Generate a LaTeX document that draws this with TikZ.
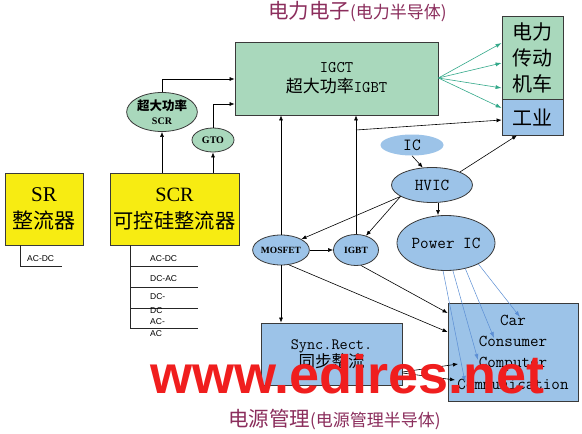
\documentclass[tikz,border=0pt]{standalone}
\usepackage{fontspec}
\setmainfont{Liberation Serif}
\newfontfamily\cjk{Noto Sans CJK SC}
\newfontfamily\wm{Liberation Sans}
\usetikzlibrary{arrows.meta,shapes.geometric}
\definecolor{gfill}{HTML}{A9D8BC}
\definecolor{bfill}{HTML}{9CC3E8}
\definecolor{yfill}{HTML}{F7EC12}
\definecolor{ttl}{HTML}{8B2D5C}
\definecolor{garr}{HTML}{33A98A}
\definecolor{barr}{HTML}{5B8ED4}
\definecolor{edge}{HTML}{3A3A3A}
\definecolor{wmred}{HTML}{F01E1E}
\tikzset{
  box/.style={draw=edge, line width=0.8pt, inner sep=0pt, align=center},
  ell/.style={ellipse, draw=edge, line width=0.8pt, inner sep=0pt, align=center},
  arr/.style={-{Latex[length=5pt,width=4pt]}, line width=0.6pt, black},
  garrow/.style={-{Latex[length=6pt,width=4pt]}, line width=0.6pt, garr},
  barrow/.style={-{Latex[length=6pt,width=4pt]}, line width=0.5pt, barr},
  plain/.style={line width=0.6pt, black!85},
  small/.style={font=\wm\fontsize{8.5}{10}\selectfont, inner sep=0pt, anchor=west},
  ttlnode/.style={text=ttl, inner sep=0pt, anchor=west},
}
\begin{document}
\begin{tikzpicture}[x=1pt,y=-1pt]
\useasboundingbox (0,0) rectangle (582,434);
\fill[white] (0,0) rectangle (582,434);

% titles
\node[ttlnode] (t1) at (268,12) {{\cjk\fontsize{20.5}{22}\selectfont 电力电子}{\cjk\fontsize{17}{20}\selectfont (电力半导体)}};
\node[ttlnode] (t2) at (228,420) {{\cjk\fontsize{20.5}{22}\selectfont 电源管理}{\cjk\fontsize{17}{20}\selectfont (电源管理半导体)}};

% boxes
\node[box, fill=gfill, minimum width=203pt, minimum height=73pt,
      font=\ttfamily\fontsize{16.2}{20}\selectfont] (igct) at (336.5,78.5)
  {IGCT\\{\cjk\fontsize{17}{20}\selectfont 超大功率}IGBT};
\node[box, fill=gfill, minimum width=61pt, minimum height=83pt,
      font=\cjk\fontsize{20}{26}\selectfont] (loco) at (532.5,57.5)
  {电力\\传动\\机车};
\node[box, fill=bfill, minimum width=61pt, minimum height=36pt,
      font=\cjk\fontsize{20}{24}\selectfont] (ind) at (532.5,117)
  {工业};
\node[box, fill=yfill, minimum width=78pt, minimum height=72pt,
      font=\fontsize{21}{27}\selectfont] (sr) at (44,209)
  {SR\\{\cjk 整流器}};
\node[box, fill=yfill, minimum width=129pt, minimum height=72pt,
      font=\fontsize{20.3}{27}\selectfont] (scr) at (174.5,209)
  {SCR\\{\cjk 可控硅整流器}};
\node[box, fill=bfill, minimum width=141pt, minimum height=62pt,
      font=\ttfamily\fontsize{15.8}{18}\selectfont] (sync) at (331.5,354)
  {Sync.Rect.\\{\cjk\fontsize{16.5}{18}\selectfont 同步整流}};
\node[box, fill=bfill, minimum width=130pt, minimum height=98pt,
      font=\ttfamily\fontsize{16.6}{21.3}\selectfont] (app) at (513,352)
  {Car\\Consumer\\Computer\\Communication};

% ellipses
\node[ell, fill=gfill, minimum width=63pt, minimum height=39pt,
      font=\bfseries\fontsize{10}{14}\selectfont] (hscr) at (162,112)
  {{\cjk\fontsize{12.5}{15}\selectfont 超大功率}\\SCR};
\node[ell, fill=gfill, minimum width=42pt, minimum height=24pt,
      font=\bfseries\fontsize{10}{12}\selectfont] (gto) at (213,140)
  {GTO};
\node[ellipse, fill=bfill, inner sep=0pt, minimum width=63pt, minimum height=21pt,
      font=\ttfamily\fontsize{17}{18}\selectfont] (ic) at (412,145)
  {IC};
\node[ell, fill=bfill, minimum width=81pt, minimum height=35pt,
      font=\ttfamily\fontsize{16.7}{18}\selectfont] (hvic) at (432,185)
  {HVIC};
\node[ell, fill=bfill, minimum width=98pt, minimum height=55pt,
      font=\ttfamily\fontsize{16.7}{18}\selectfont] (pic) at (446,243)
  {Power IC};
\node[ell, fill=bfill, minimum width=47pt, minimum height=30pt,
      font=\bfseries\fontsize{9.5}{11}\selectfont] (mosfet) at (281,250)
  {MOSFET};
\node[ell, fill=bfill, minimum width=45pt, minimum height=31pt,
      font=\bfseries\fontsize{9.5}{11}\selectfont] (igbt) at (356,250)
  {IGBT};

% SCR -> ellipses -> IGCT
\draw[arr] (scr.north -| hscr) -- (hscr.south);
\draw[arr] (scr.north -| gto) -- (gto.south);
\draw[arr] (hscr.north) |- (igct.west |- 0,79);
\draw[arr] (gto.north) |- (igct.west |- 0,104);

% green arrows
\coordinate (gsrc) at (igct.east |- 0,78);
\foreach \yy in {43,63,88,108} \draw[garrow] (gsrc) -- (loco.west |- 0,\yy);

% MOSFET / IGBT verticals
\draw[arr] (mosfet.north) -- (mosfet.north |- igct.south);
\draw[arr] (igbt.north) -- (igbt.north |- igct.south);
\draw[arr] (igbt.north |- 0,130) -- (ind.west |- 0,120);

% IC chain
\draw[arr] (ic.south) -- (hvic.118);
\draw[arr] (hvic.25) -- (517,0 |- ind.south);
\draw[arr] (438,0 |- hvic.south) -- (438,0 |- pic.north);
\draw[arr] (hvic.200) -- (mosfet.28);
\draw[arr] (hvic.200) -- (igbt.55);
\draw[arr] (mosfet.east) -- (igbt.west);
\draw[arr] (mosfet.south) -- (mosfet.south |- sync.north);
\draw[arr] (mosfet.-62) -- (app.west |- 0,332);
\draw[arr] (igbt.-72) -- (app.west |- 0,313);
\draw[arr] (sync.east |- 0,372) -- (458,364);
\draw[arr] (sync.east |- 0,373) -- (455,380);

% Power IC -> applications
\draw[barrow] (pic.-96) -- (465,382);
\draw[barrow] (pic.-76) -- (478,360);
\draw[barrow] (pic.-53) -- (494,338);
\draw[barrow] (pic.-33) -- (520,317);

% SR / SCR branches
\coordinate (srend) at (62,266);
\draw[plain] (sr.south -| 20,0) |- (srend);
\node[small] (l0) at (27,259) {AC-DC};

\coordinate (scrb) at (130,328);
\draw[plain] (scr.south -| scrb) -- (scrb);
\foreach \yy in {266,287,308,328} \draw[plain] (130,\yy) -- (198,\yy);
\node[small] (l1) at (150,259) {AC-DC};
\node[small] (l2) at (150,279) {DC-AC};
\node[small] (l3) at (150,297) {DC-};
\node[small] (l4) at (150,311) {DC};
\node[small] (l5) at (150,322) {AC-};
\node[small] (l6) at (150,334) {AC};

% watermark
\node[text=wmred, anchor=base west, inner sep=0pt] (wmk) at (150,393)
  {\wm\bfseries\fontsize{54}{60}\selectfont www.edires.net};
\end{tikzpicture}
\end{document}
